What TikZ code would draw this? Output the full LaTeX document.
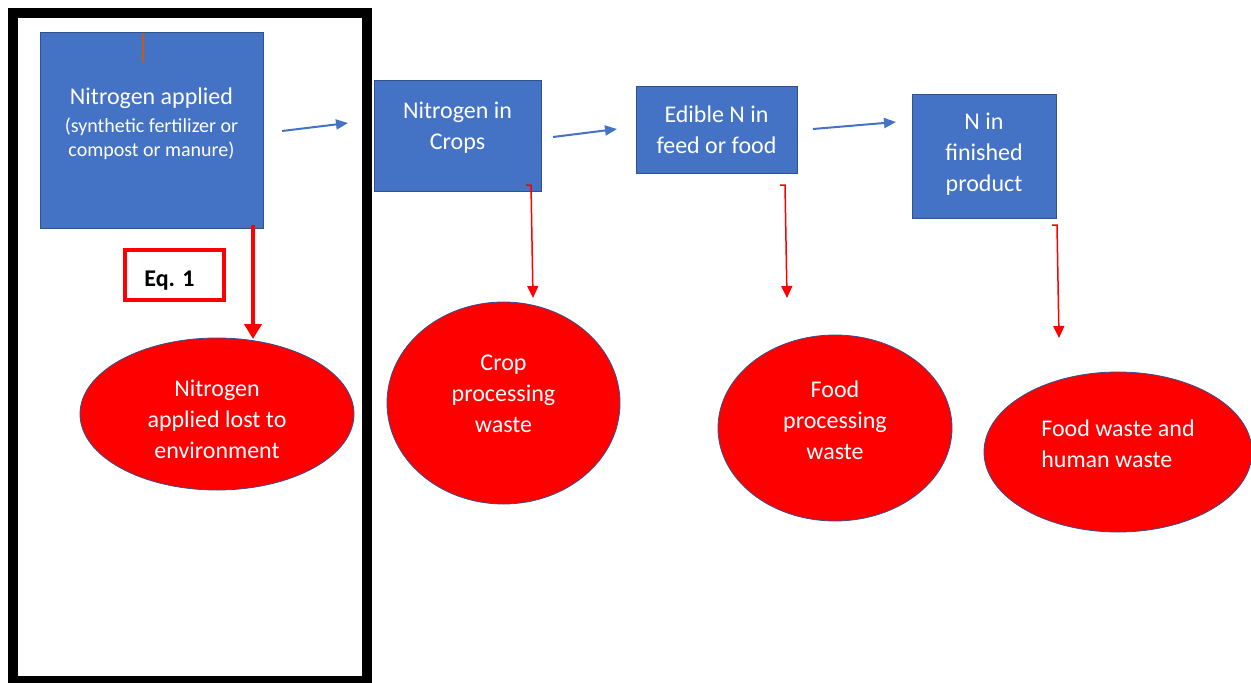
\documentclass[tikz,border=0pt]{standalone}
\usepackage{fontspec}
\setmainfont{Carlito}
\usetikzlibrary{shapes.geometric,arrows.meta}

\definecolor{boxblue}{HTML}{4472C4}
\definecolor{edgeblue}{HTML}{2F528F}
\definecolor{tickorange}{HTML}{C55A11}

\begin{document}
\begin{tikzpicture}[x=1pt,y=-1pt,font=\fontsize{24}{31}\selectfont,
    flow/.style={draw=boxblue,line width=2,-{Triangle[length=12,width=10]}},
    loss/.style={draw=red,line width=1.5,-{Triangle[length=12,width=11]}},
    bigloss/.style={draw=red,line width=4.5,-{Triangle[length=15,width=17]}}]

  \useasboundingbox (0,0) rectangle (1251,683);

  \draw[line width=10] (13,13) rectangle (367,681);

  \begin{scope}[every node/.style={rectangle,draw=edgeblue,fill=boxblue,text=white,
      align=center,inner sep=0,line width=.8}]
    \node[minimum width=223,minimum height=196] (1) at (151.5,130)
      {Nitrogen applied\\[-3pt]{\fontsize{20}{24}\selectfont (synthetic fertilizer or}\\[-7pt]
       {\fontsize{20}{24}\selectfont compost or manure)\rule[-15pt]{0pt}{0pt}}};
    \node[minimum width=167,minimum height=111] (2) at (457.5,135.5)
      {Nitrogen in\\Crops\rule[-19pt]{0pt}{0pt}};
    \node[minimum width=161,minimum height=87] (3) at (716.5,129.5)
      {Edible N in\\feed or food};
    \node[minimum width=144,minimum height=124] (4) at (984,156)
      {N in\\finished\\product\rule[-7pt]{0pt}{0pt}};
  \end{scope}

  \draw[tickorange,line width=1.2] (143,33) -- (143,62);

  \begin{scope}[every node/.style={ellipse,draw=edgeblue,fill=red,text=white,
      align=center,inner sep=0,line width=.8}]
    \node[minimum width=274,minimum height=152] (5) at (217,414)
      {\rule{0pt}{28pt}Nitrogen\\applied lost to\\environment};
    \node[minimum width=233,minimum height=202] (6) at (503.5,403)
      {Crop\\processing\\waste\rule[-19pt]{0pt}{0pt}};
    \node[minimum width=234,minimum height=186] (7) at (835,428)
      {Food\\processing\\waste\rule[-16pt]{0pt}{0pt}};
    \node[minimum width=268,minimum height=160,align=left] (8) at (1118,452)
      {Food waste and\\human waste\rule[-17pt]{0pt}{0pt}};
  \end{scope}

  \node[draw=red,line width=4,minimum width=99,minimum height=50,inner sep=0,
    font=\fontsize{24}{31}\selectfont\bfseries] (9) at (174.5,275)
    {\rule{0pt}{27pt}Eq. 1\kern10pt};

  \coordinate (1r) at (282,131);
  \coordinate (2l) at (348,123);
  \coordinate (2r) at (553,137);
  \coordinate (3l) at (617,129);
  \coordinate (3r) at (813,129);
  \coordinate (4l) at (896,122);
  \coordinate (1d) at (253,225);
  \coordinate (5u) at (253,339);
  \coordinate (2d) at (531,185);
  \coordinate (6u) at (533,298);
  \coordinate (3d) at (785,185);
  \coordinate (7u) at (787,298);
  \coordinate (4d) at (1057,225);
  \coordinate (8u) at (1059,338);

  \draw[flow] (1r) -- (2l);
  \draw[flow] (2r) -- (3l);
  \draw[flow] (3r) -- (4l);

  \draw[bigloss] (1d) -- (5u);
  \draw[loss] ([xshift=-5pt]2d) -- (2d) -- (6u);
  \draw[loss] ([xshift=-5pt]3d) -- (3d) -- (7u);
  \draw[loss] ([xshift=-5pt]4d) -- (4d) -- (8u);

\end{tikzpicture}
\end{document}
